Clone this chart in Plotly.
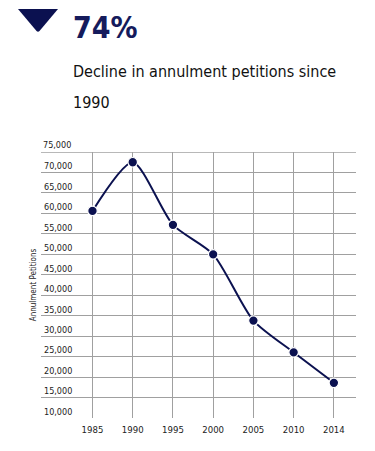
import plotly.graph_objects as go

years = ["1985", "1990", "1995", "2000", "2005", "2010", "2014"]
petitions = [60600, 72500, 57200, 50000, 33800, 26050, 18600]
y_ticks = list(range(10000, 75001, 5000))
y_tick_labels = [f"{v:,}" for v in y_ticks]

OFF = 8  # default page body margin
W, H = 375 - OFF, 451 - OFF
L, R, T, B = 41 - OFF, 19, 152 - OFF, 33
pw, ph = W - L - R, H - T - B

def px(x):
    return (x - OFF - L) / pw

def py(y):
    return (H - B - (y - OFF)) / ph

navy = "#0b1150"
cond = "DejaVu Sans Condensed, Liberation Sans Narrow, sans-serif"

fig = go.Figure()
fig.add_trace(go.Scatter(
    x=years, y=petitions, mode="lines+markers",
    line=dict(color=navy, width=2, shape="spline", smoothing=0.7),
    marker=dict(size=9.5, color=navy, line=dict(color="white", width=1.2)),
    cliponaxis=False, showlegend=False,
))

fig.update_layout(
    width=W, height=H,
    margin=dict(l=L, r=R, t=T, b=B, autoexpand=False),
    paper_bgcolor="white", plot_bgcolor="white",
    xaxis=dict(
        type="category", range=[-1.28, 6.55], automargin=False,
        showgrid=True, gridcolor="#a0a0a0", gridwidth=1.3,
        zeroline=False, showline=False, ticks="", ticklabelstandoff=4,
        tickfont=dict(family=cond, size=9.5, color="#222"),
    ),
    yaxis=dict(
        range=[10000, 75000], tickvals=y_ticks[:-1], ticktext=y_tick_labels[:-1],
        automargin=False,
        showgrid=True, gridcolor="#a0a0a0", gridwidth=1.3,
        zeroline=False, showline=False, ticks="",
        ticklabelposition="inside top",
        tickfont=dict(family=cond, size=9, color="#222"),
        title=dict(text="Annulment Petitions", standoff=6,
                   font=dict(family=cond, size=8, color="#222")),
    ),
    shapes=[
        dict(type="line", xref="paper", yref="y", x0=0, x1=1, y0=y_ticks[-1], y1=y_ticks[-1],
             line=dict(color="#a0a0a0", width=1.3), layer="below"),
        dict(
            type="path", xref="paper", yref="paper",
            path=f"M {px(18)} {py(9)} L {px(58)} {py(9)} L {px(39.5)} {py(31)} Q {px(38)} {py(32.5)} {px(36.5)} {py(31)} Z",
            fillcolor=navy, line=dict(width=0),
        ),
    ],
    annotations=[
        dict(text=y_tick_labels[-1], xref="paper", yref="y", x=0, y=y_ticks[-1],
             xanchor="left", yanchor="bottom", showarrow=False,
             font=dict(family=cond, size=9, color="#222")),
        dict(text="<b>74%</b>", xref="paper", yref="paper", x=px(71), y=py(8),
             xanchor="left", yanchor="top", showarrow=False,
             font=dict(family=cond, size=30, color="#151b5c")),
        dict(text="Decline in annulment petitions since", xref="paper", yref="paper",
             x=px(71), y=py(60), xanchor="left", yanchor="top", showarrow=False,
             font=dict(family=cond, size=16, color="#111")),
        dict(text="1990", xref="paper", yref="paper",
             x=px(71), y=py(91), xanchor="left", yanchor="top", showarrow=False,
             font=dict(family=cond, size=16, color="#111")),
    ],
)

fig.write_html("out.html")
